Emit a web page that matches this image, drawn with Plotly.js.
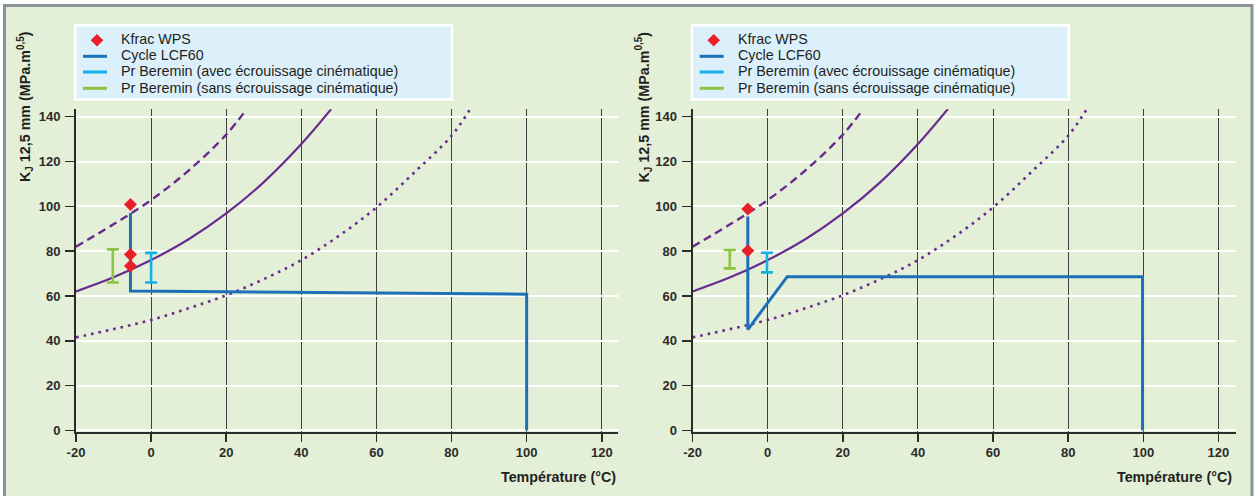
<!DOCTYPE html>
<html><head><meta charset="utf-8">
<script src="https://cdn.plot.ly/plotly-3.0.1.min.js"></script>
<style>html,body{margin:0;padding:0;background:#fff}#chart{width:1259px;height:496px}</style>
</head><body><div id="chart"></div>
<script>
// ---- data: reference curves (same in both panels) ----
const solidT = [-20, -10, 0, 10, 20, 30, 40, 48];
const solidK = [62, 68.3, 76, 85.3, 96.8, 110.8, 127.8, 143.5];
const dashT = [-20, -10, 0, 10, 20, 25.5];
const dashK = [82, 92, 102.8, 116, 132, 143.5];
const dotT = [-20, -10, 0, 10, 20, 30, 40, 50, 60, 70, 80, 85];
const dotK = [41.5, 45.2, 49.3, 54.5, 60.3, 67.5, 76, 86.8, 99.5, 115, 131.5, 143.5];

// ---- left panel ----
const wpsT_L = [-5.5, -5.5, -5.5];
const wpsK_L = [100.8, 78.5, 73.4];
const cycleT_L = [-5.5, -5.5, 100, 100];
const cycleK_L = [97, 62.2, 60.8, 0];
const avecT_L = [0];
const avecLo_L = [66];
const avecHi_L = [79.2];
const sansT_L = [-10.2];
const sansLo_L = [66];
const sansHi_L = [80.8];

// ---- right panel ----
const wpsT_R = [-5.3, -5.3];
const wpsK_R = [98.8, 80.2];
const cycleT_R = [-5.3, -5.3, 5.2, 99.8, 99.8];
const cycleK_R = [95.5, 45, 68.6, 68.6, 0];
const avecT_R = [-0.2];
const avecLo_R = [70.5];
const avecHi_R = [79.3];
const sansT_R = [-10.1];
const sansLo_R = [72.3];
const sansHi_R = [80.5];

const legendLabels = ['Kfrac WPS', 'Cycle LCF60', 'Pr Beremin (avec écrouissage cinématique)', 'Pr Beremin (sans écrouissage cinématique)'];
const xTicks = [-20, 0, 20, 40, 60, 80, 100, 120];
const yTicks = [0, 20, 40, 60, 80, 100, 120, 140];
const yTitle = 'K<sub>J</sub> 12,5 mm (MPa.m<sup>0,5</sup>)';
const xTitle = 'Température (°C)';

// ---- styles ----
const W = 1259, H = 496;
const PX = x => x / W, PY = y => 1 - y / H;
const FONT = 'Liberation Sans, Arial, Helvetica, sans-serif';
const PURPLE = '#6a2b8f', RED = '#e8202a', BLUE = '#1d70b7', CYAN = '#15afe8', GREEN = '#8cc43f';

function panel(xa, ya, d) {
  const t = [];
  t.push({x: dotT, y: dotK, xaxis: xa, yaxis: ya, mode: 'lines', line: {color: PURPLE, width: 2.6, dash: '2.6px,5px', shape: 'spline'}});
  t.push({x: dashT, y: dashK, xaxis: xa, yaxis: ya, mode: 'lines', line: {color: PURPLE, width: 2.4, dash: '8px,5px', shape: 'spline'}});
  t.push({x: solidT, y: solidK, xaxis: xa, yaxis: ya, mode: 'lines', line: {color: PURPLE, width: 2.2, shape: 'spline'}});
  t.push({x: d.cycT, y: d.cycK, xaxis: xa, yaxis: ya, mode: 'lines', line: {color: BLUE, width: 3}});
  t.push({x: d.sansT, y: d.sansLo, xaxis: xa, yaxis: ya, mode: 'markers', marker: {size: 1, opacity: 0},
    error_y: {type: 'data', symmetric: false, array: d.sansHi.map((h, i) => h - d.sansLo[i]), arrayminus: d.sansLo.map(() => 0), color: GREEN, thickness: 2.6, width: 6}});
  t.push({x: d.avecT, y: d.avecLo, xaxis: xa, yaxis: ya, mode: 'markers', marker: {size: 1, opacity: 0},
    error_y: {type: 'data', symmetric: false, array: d.avecHi.map((h, i) => h - d.avecLo[i]), arrayminus: d.avecLo.map(() => 0), color: CYAN, thickness: 2.6, width: 6}});
  t.push({x: d.wpsT, y: d.wpsK, xaxis: xa, yaxis: ya, mode: 'markers', marker: {symbol: 'diamond', size: 10, color: RED}});
  return t;
}

const traces = [].concat(
  panel('x', 'y', {cycT: cycleT_L, cycK: cycleK_L, sansT: sansT_L, sansLo: sansLo_L, sansHi: sansHi_L, avecT: avecT_L, avecLo: avecLo_L, avecHi: avecHi_L, wpsT: wpsT_L, wpsK: wpsK_L}),
  panel('x2', 'y2', {cycT: cycleT_R, cycK: cycleK_R, sansT: sansT_R, sansLo: sansLo_R, sansHi: sansHi_R, avecT: avecT_R, avecLo: avecLo_R, avecHi: avecHi_R, wpsT: wpsT_R, wpsK: wpsK_R})
);

const tickFont = {family: FONT, size: 13, color: '#2b2b2b', weight: 'bold'};
function xAxis(dom, rng, anchor) {
  return {domain: dom, range: rng, anchor: anchor, tickvals: xTicks, ticktext: xTicks.map(String),
    showgrid: true, gridcolor: '#3f3f3f', gridwidth: 1, zeroline: false,
    showline: true, linecolor: '#2b2b2b', linewidth: 2, ticks: 'outside', ticklen: 8, tickwidth: 1.5, tickcolor: '#2b2b2b',
    tickfont: tickFont, fixedrange: true};
}
function yAxis(anchor) {
  return {domain: [(H - 431.5) / H, (H - 109.3) / H], range: [-0.5, 143.3], anchor: anchor, tickvals: yTicks, ticktext: yTicks.map(String),
    showgrid: true, gridcolor: '#ffffff', gridwidth: 2, zeroline: false,
    showline: true, linecolor: '#2b2b2b', linewidth: 2, ticks: 'outside', ticklen: 9, tickwidth: 1.5, tickcolor: '#2b2b2b',
    tickfont: tickFont, ticklabelstandoff: 2, fixedrange: true};
}

const shapes = [];
const annotations = [];
// background frame
shapes.push({type: 'rect', xref: 'paper', yref: 'paper', x0: PX(4.5), x1: PX(1252), y0: PY(5.5), y1: PY(510),
  fillcolor: '#e3efd7', line: {color: '#8b9299', width: 3}, layer: 'below'});

// manual legends
[74, 690.7].forEach(L => {
  shapes.push({type: 'rect', xref: 'paper', yref: 'paper', x0: PX(L + 1.2), x1: PX(L + 378), y0: PY(25.2), y1: PY(99.6),
    fillcolor: '#dbf0fa', line: {color: '#ffffff', width: 2.5}});
  const cx = L + 23, cy = 40.2, r = 6.3;
  shapes.push({type: 'path', xref: 'paper', yref: 'paper',
    path: `M ${PX(cx)},${PY(cy - r)} L ${PX(cx + r)},${PY(cy)} L ${PX(cx)},${PY(cy + r)} L ${PX(cx - r)},${PY(cy)} Z`,
    fillcolor: RED, line: {width: 0}});
  [[BLUE, 56.3], [CYAN, 72], [GREEN, 88.3]].forEach(([c, y]) => {
    shapes.push({type: 'line', xref: 'paper', yref: 'paper', x0: PX(L + 9), x1: PX(L + 33), y0: PY(y), y1: PY(y), line: {color: c, width: 3}});
  });
  legendLabels.forEach((lab, i) => {
    annotations.push({xref: 'paper', yref: 'paper', x: PX(L + 45), y: PY(38.7 + i * 16.35), xanchor: 'left', yanchor: 'middle',
      text: lab, showarrow: false, font: {family: FONT, size: 14.3, color: '#231f20'}});
  });
});

// axis titles
[[25, 618], [643.5, 1234]].forEach(([yx, xr]) => {
  annotations.push({xref: 'paper', yref: 'paper', x: PX(yx), y: PY(107), textangle: -90, xanchor: 'center', yanchor: 'middle',
    text: yTitle, showarrow: false, font: {family: FONT, size: 14.3, color: '#231f20', weight: 'bold'}});
  annotations.push({xref: 'paper', yref: 'paper', x: PX(xr), y: PY(477), xanchor: 'right', yanchor: 'middle',
    text: xTitle, showarrow: false, font: {family: FONT, size: 14.3, color: '#231f20', weight: 'bold'}});
});

const layout = {
  width: W, height: H, margin: {l: 0, r: 0, t: 0, b: 0},
  paper_bgcolor: '#ffffff', plot_bgcolor: '#dbe1e8', showlegend: false, hovermode: false,
  xaxis: xAxis([76 / W, 618.3 / W], [-20, 124.4], 'y'),
  yaxis: yAxis('x'),
  xaxis2: xAxis([692.6 / W, 1235.7 / W], [-20, 124.6], 'y2'),
  yaxis2: yAxis('x2'),
  shapes: shapes, annotations: annotations
};

Plotly.newPlot('chart', traces, layout, {staticPlot: true, displayModeBar: false});
</script></body></html>
